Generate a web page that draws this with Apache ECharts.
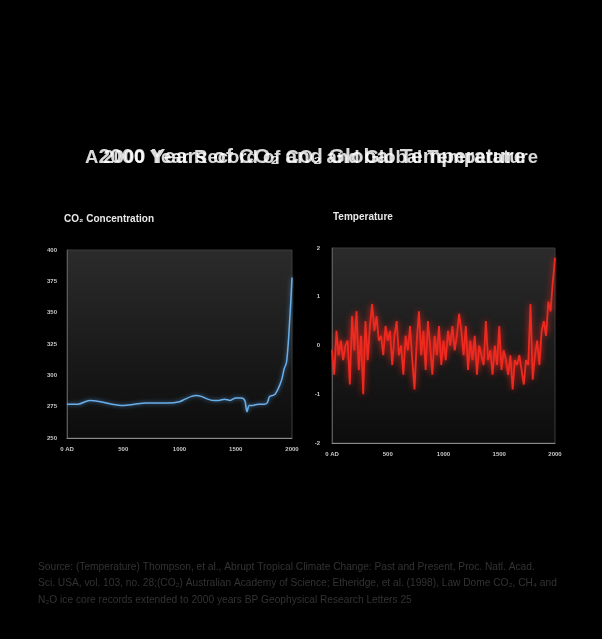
<!DOCTYPE html>
<html><head><meta charset="utf-8">
<script src="https://cdn.jsdelivr.net/npm/echarts@6/dist/echarts.min.js"></script>
<style>html,body{margin:0;padding:0;background:#000;}#c{width:602px;height:639px;}</style>
</head><body><div id="c"></div>
<script>
const titleA = "A 2000 Year Record of CO\u2082 and Global Temperature";
const titleB = "2000 Years of CO\u2082 and Global Temperature";
const co2Title = "CO\u2082 Concentration";
const tempTitle = "Temperature";
const sourceLines = [
  "Source: (Temperature) Thompson, et al., Abrupt Tropical Climate Change: Past and Present, Proc. Natl. Acad.",
  "Sci. USA, vol. 103, no. 28;(CO\u2082) Australian Academy of Science; Etheridge, et al. (1998), Law Dome CO\u2082, CH\u2084 and",
  "N\u2082O ice core records extended to 2000 years BP Geophysical Research Letters 25"
];
const xTickLabels = {0: "0 AD", 500: "500", 1000: "1000", 1500: "1500", 2000: "2000"};

const co2Years = [0,100,200,300,400,500,600,700,800,900,1000,1050,1100,1150,1200,1250,1300,1350,1400,1450,1500,1550,1580,1600,1620,1650,1700,1750,1780,1800,1830,1850,1870,1890,1910,1930,1950,1960,1970,1980,1990,2000];
const co2Values = [277,277,280,279,277,276,277,278,278,278,279,281,283,284,283,281,280,280,281,280,282,282,280,271,276,276,277,277,278,283,284,285,288,292,297,305,310,318,330,345,360,378];

const tempYears = [];
for (let y = 0; y <= 2000; y += 20) tempYears.push(y);
const tempValues = [
 -0.1,-0.6,0.3,-0.2,0.1,-0.3,0.0,0.1,-0.8,0.6,
 -0.1,0.7,-0.5,0.2,-1.0,0.5,-0.3,0.4,0.85,0.3,
 0.6,0.1,0.2,-0.2,0.4,0.1,0.3,-0.4,0.2,0.5,
 -0.2,0.0,-0.6,0.2,-0.1,0.4,-0.3,-0.9,0.1,0.7,
 -0.2,0.3,-0.5,0.5,0.0,-0.6,0.2,-0.2,0.4,-0.4,
 0.1,-0.3,0.3,0.0,0.4,-0.1,0.2,0.65,0.3,-0.2,
 0.4,-0.5,0.1,-0.3,0.2,-0.6,0.0,-0.2,-0.4,0.5,
 -0.3,-0.1,-0.6,0.0,-0.4,0.4,-0.5,-0.1,-0.3,-0.6,
 -0.2,-0.9,-0.3,-0.4,-0.2,-0.5,-0.8,-0.3,-0.4,0.85,
 -0.7,-0.2,0.1,-0.4,0.3,0.5,0.2,0.9,0.7,1.3,
 1.8
];

const chart = echarts.init(document.getElementById('c'), null, {renderer: 'canvas'});
const font = "'Liberation Sans',Arial,sans-serif";
const plotBg = {type:'linear', x:0, y:0, x2:0, y2:1, colorStops:[{offset:0,color:'#2b2b2b'},{offset:1,color:'#0c0c0c'}]};
const axLabel = {color:'#c8c8c8', fontSize:6, fontWeight:'bold', fontFamily:font};

function xAxis(gi) {
  return {type:'value', gridIndex:gi, min:0, max:2000, interval:500,
    axisLine:{show:true, onZero:false, lineStyle:{color:'#8a8a8a', width:1}},
    axisTick:{show:false}, splitLine:{show:false},
    axisLabel:Object.assign({}, axLabel, {margin:8, formatter:v => xTickLabels[v] || ''})};
}

chart.setOption({
  backgroundColor:'#000',
  animation:false,
  graphic:[
    {type:'text', x:85, top:148, style:{text:titleA, fill:'rgba(255,255,255,0.85)', font:"bold 18.5px "+font}},
    {type:'text', x:312, top:147, style:{text:titleB, fill:'rgba(255,255,255,0.85)', font:"bold 21px "+font, textAlign:'center'}},
    {type:'text', left:64, top:214, style:{text:co2Title, fill:'#e8e8e8', font:"bold 10px "+font}},
    {type:'text', left:333, top:212, style:{text:tempTitle, fill:'#e8e8e8', font:"bold 10px "+font}},
    {type:'text', left:38, top:562, style:{text:sourceLines[0], fill:'#333', font:"10.2px "+font}},
    {type:'text', left:38, top:578, style:{text:sourceLines[1], fill:'#333', font:"10.2px "+font}},
    {type:'text', left:38, top:595, style:{text:sourceLines[2], fill:'#333', font:"10.2px "+font}}
  ],
  grid:[
    {left:67, top:250, width:225, height:188, show:true, backgroundColor:plotBg, borderColor:'#3c3c3c', borderWidth:1},
    {left:332, top:248, width:223, height:195, show:true, backgroundColor:plotBg, borderColor:'#3c3c3c', borderWidth:1}
  ],
  xAxis:[xAxis(0), xAxis(1)],
  yAxis:[
    {type:'value', gridIndex:0, min:250, max:400, interval:25,
     axisLine:{show:true, lineStyle:{color:'#5a5a5a'}}, axisTick:{show:false}, splitLine:{show:false},
     axisLabel:Object.assign({}, axLabel, {margin:10})},
    {type:'value', gridIndex:1, min:-2, max:2, interval:1,
     axisLine:{show:true, lineStyle:{color:'#5a5a5a'}}, axisTick:{show:false}, splitLine:{show:false},
     axisLabel:Object.assign({}, axLabel, {margin:12})}
  ],
  series:[
    {type:'line', xAxisIndex:0, yAxisIndex:0, data:co2Years.map((y,i)=>[y, co2Values[i]]),
     showSymbol:false, smooth:0.3,
     lineStyle:{color:'#6aaee8', width:1.5, shadowColor:'rgba(90,160,230,0.8)', shadowBlur:4}},
    {type:'line', xAxisIndex:1, yAxisIndex:1, data:tempYears.map((y,i)=>[y, tempValues[i]]),
     showSymbol:false,
     lineStyle:{color:'#ee2a20', width:1.8, shadowColor:'rgba(255,40,30,0.9)', shadowBlur:6}}
  ]
});
</script></body></html>
